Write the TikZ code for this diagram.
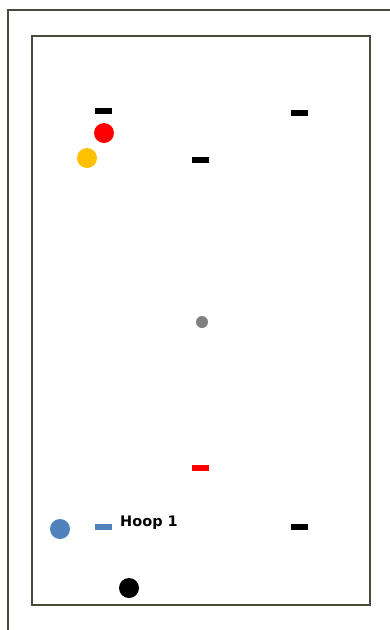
\documentclass[tikz,border=0pt]{standalone}
\usepackage{fontspec}
\setmainfont{DejaVu Sans}
\definecolor{frame}{HTML}{4A4A3C}
\definecolor{myred}{HTML}{FF0000}
\definecolor{myyellow}{HTML}{FFC000}
\definecolor{mygray}{HTML}{808080}
\definecolor{myblue}{HTML}{4F81BD}
\tikzset{
  dashbox/.style={rectangle, minimum width=17pt, minimum height=6pt, inner sep=0pt, draw=none, fill=#1},
  dot/.style={circle, minimum size=#1, inner sep=0pt, draw=none},
  framebox/.style={draw=frame, line width=1.8pt}
}
\begin{document}
\begin{tikzpicture}[x=1pt,y=-1pt]
\useasboundingbox (0,0) rectangle (390,630);
\clip (0,0) rectangle (390,630);
\draw[framebox] (8,10) rectangle (400,640);
\draw[framebox] (32,36) rectangle (370,605);
\node[dashbox=black] (d1) at (103,111) {};
\node[dashbox=black] (d2) at (299,113) {};
\node[dashbox=black] (d3) at (200,160) {};
\node[dashbox=myred] (d4) at (200,468) {};
\node[dashbox=black] (d5) at (299,527) {};
\node[dashbox=myblue] (d6) at (103,527) {};
\node[dot=20pt, fill=myred] (c1) at (104,133) {};
\node[dot=20pt, fill=myyellow] (c2) at (87,158) {};
\node[dot=12pt, fill=mygray] (c3) at (202,322) {};
\node[dot=20pt, fill=myblue] (c4) at (60,529) {};
\node[dot=20pt, fill=black] (c5) at (129,588) {};
\node[anchor=base west, inner sep=0pt, font=\bfseries\fontsize{14.5}{17}\selectfont] (lbl) at (120,526) {Hoop 1};
\end{tikzpicture}
\end{document}
